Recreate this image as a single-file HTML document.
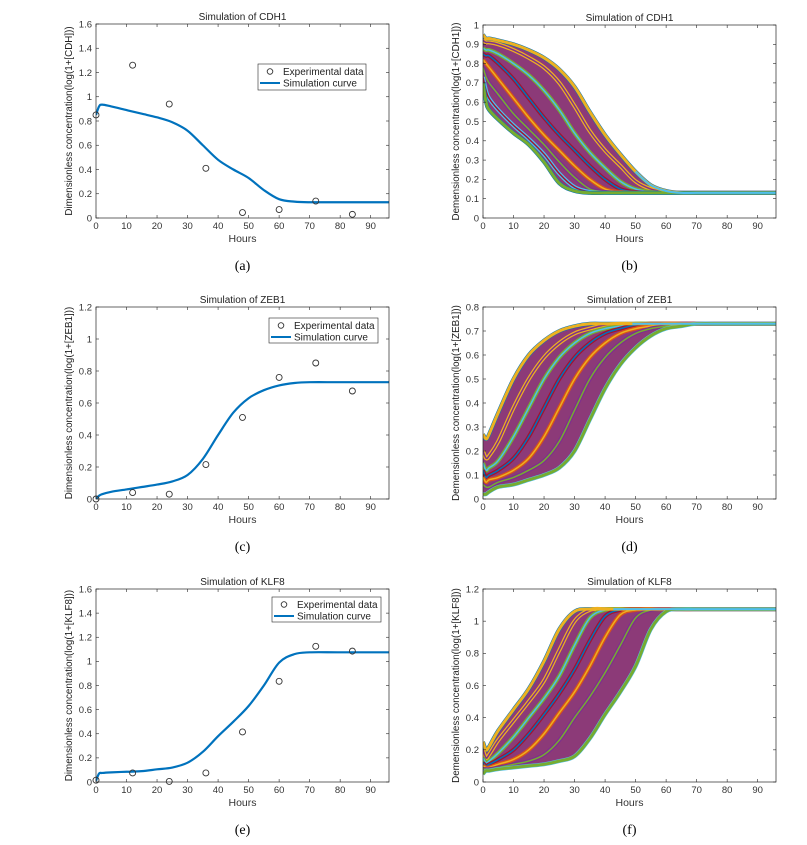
<!DOCTYPE html>
<html><head><meta charset="utf-8">
<style>
body{margin:0;background:#fff;}
svg{display:block;font-family:"Liberation Sans",sans-serif;}
</style></head>
<body>
<svg id="fig" width="807" height="845" viewBox="0 0 807 845" xmlns="http://www.w3.org/2000/svg"></svg>
<script>
// shared hour grid
const hoursGrid = [0,1,2,5,10,15,20,25,30,35,40,45,50,55,60,65,70,80,96];
const expHours = [0,12,24,36,48,60,72,84];
// panel a
const simA = [0.85,0.92,0.935,0.92,0.89,0.86,0.83,0.79,0.72,0.60,0.48,0.40,0.33,0.23,0.155,0.135,0.13,0.13,0.13];
const expA = [0.85,1.26,0.94,0.41,0.045,0.07,0.14,0.03];
// panel c
const simC = [0,0.02,0.03,0.045,0.06,0.075,0.09,0.11,0.15,0.25,0.40,0.54,0.63,0.68,0.71,0.725,0.73,0.73,0.73];
const expC = [0,0.04,0.03,0.215,0.51,0.76,0.85,0.675];
// panel e
const simE = [0.01,0.07,0.075,0.08,0.085,0.09,0.105,0.12,0.16,0.25,0.38,0.50,0.63,0.80,0.99,1.06,1.075,1.075,1.075];
const expE = [0.015,0.075,0.005,0.075,0.415,0.835,1.125,1.085];
// panel b ensemble
const ensB = [
 [0.95,0.93,0.93,0.92,0.90,0.87,0.83,0.77,0.68,0.55,0.43,0.33,0.24,0.17,0.14,0.13,0.13,0.13,0.13],
 [0.92,0.91,0.91,0.90,0.87,0.83,0.78,0.70,0.58,0.45,0.35,0.27,0.19,0.15,0.135,0.13,0.13,0.13,0.13],
 [0.88,0.87,0.87,0.85,0.80,0.74,0.66,0.56,0.44,0.34,0.26,0.19,0.15,0.135,0.13,0.13,0.13,0.13,0.13],
 [0.85,0.84,0.84,0.80,0.72,0.62,0.52,0.43,0.35,0.27,0.20,0.15,0.135,0.13,0.13,0.13,0.13,0.13,0.13],
 [0.82,0.80,0.78,0.72,0.62,0.52,0.43,0.35,0.27,0.20,0.15,0.135,0.13,0.13,0.13,0.13,0.13,0.13,0.13],
 [0.78,0.73,0.70,0.64,0.54,0.46,0.38,0.29,0.21,0.15,0.135,0.13,0.13,0.13,0.13,0.13,0.13,0.13,0.13],
 [0.73,0.66,0.62,0.56,0.48,0.41,0.33,0.23,0.16,0.135,0.13,0.13,0.13,0.13,0.13,0.13,0.13,0.13,0.13],
 [0.70,0.60,0.56,0.51,0.44,0.38,0.29,0.18,0.14,0.13,0.13,0.13,0.13,0.13,0.13,0.13,0.13,0.13,0.13]
];
// panel d ensemble
const ensD = [
 [0.27,0.25,0.27,0.36,0.50,0.60,0.66,0.70,0.72,0.73,0.73,0.73,0.73,0.73,0.73,0.73,0.73,0.73,0.73],
 [0.20,0.17,0.18,0.24,0.38,0.50,0.59,0.65,0.69,0.71,0.725,0.73,0.73,0.73,0.73,0.73,0.73,0.73,0.73],
 [0.15,0.12,0.13,0.16,0.26,0.38,0.50,0.59,0.65,0.69,0.71,0.72,0.73,0.73,0.73,0.73,0.73,0.73,0.73],
 [0.12,0.09,0.10,0.12,0.17,0.26,0.38,0.50,0.59,0.65,0.69,0.71,0.725,0.73,0.73,0.73,0.73,0.73,0.73],
 [0.09,0.07,0.08,0.09,0.12,0.17,0.26,0.38,0.50,0.59,0.65,0.69,0.71,0.72,0.73,0.73,0.73,0.73,0.73],
 [0.06,0.05,0.05,0.07,0.09,0.12,0.16,0.24,0.37,0.50,0.59,0.65,0.69,0.71,0.72,0.73,0.73,0.73,0.73],
 [0.02,0.02,0.03,0.05,0.06,0.08,0.10,0.13,0.20,0.33,0.46,0.56,0.63,0.68,0.71,0.72,0.73,0.73,0.73]
];
// panel f ensemble
const ensF = [
 [0.25,0.20,0.22,0.32,0.45,0.58,0.75,0.95,1.06,1.075,1.075,1.075,1.075,1.075,1.075,1.075,1.075,1.075,1.075],
 [0.20,0.15,0.17,0.26,0.38,0.50,0.63,0.82,1.00,1.07,1.075,1.075,1.075,1.075,1.075,1.075,1.075,1.075,1.075],
 [0.15,0.12,0.13,0.18,0.28,0.40,0.52,0.66,0.85,1.02,1.07,1.075,1.075,1.075,1.075,1.075,1.075,1.075,1.075],
 [0.12,0.10,0.11,0.14,0.20,0.30,0.42,0.55,0.70,0.88,1.03,1.07,1.075,1.075,1.075,1.075,1.075,1.075,1.075],
 [0.10,0.09,0.09,0.11,0.14,0.20,0.30,0.43,0.56,0.72,0.90,1.04,1.07,1.075,1.075,1.075,1.075,1.075,1.075],
 [0.08,0.08,0.08,0.09,0.11,0.13,0.17,0.26,0.40,0.53,0.68,0.85,1.02,1.07,1.075,1.075,1.075,1.075,1.075],
 [0.05,0.07,0.07,0.08,0.09,0.10,0.11,0.13,0.16,0.27,0.42,0.56,0.72,0.95,1.06,1.075,1.075,1.075,1.075]
];
const xTicks = [0,10,20,30,40,50,60,70,80,90];
const ticksA = ["0","0.2","0.4","0.6","0.8","1","1.2","1.4","1.6"];
const ticksB = ["0","0.1","0.2","0.3","0.4","0.5","0.6","0.7","0.8","0.9","1"];
const ticksC = ["0","0.2","0.4","0.6","0.8","1","1.2"];
const ticksD = ["0","0.1","0.2","0.3","0.4","0.5","0.6","0.7","0.8"];
const ticksF = ["0","0.2","0.4","0.6","0.8","1","1.2"];
const colors = ["#0072BD","#D95319","#EDB120","#7E2F8E","#77AC30","#4DBEEE","#A2142F"];

const NS="http://www.w3.org/2000/svg";
const svg=document.getElementById('fig');
function mk(tag,attrs,parent){const e=document.createElementNS(NS,tag);for(const k in attrs)e.setAttribute(k,attrs[k]);(parent||svg).appendChild(e);return e;}
function smooth(pts){let d="M"+pts[0][0]+","+pts[0][1];for(let i=0;i<pts.length-1;i++){const p0=pts[Math.max(0,i-1)],p1=pts[i],p2=pts[i+1],p3=pts[Math.min(pts.length-1,i+2)];const c1x=p1[0]+(p2[0]-p0[0])/6,c1y=p1[1]+(p2[1]-p0[1])/6,c2x=p2[0]-(p3[0]-p1[0])/6,c2y=p2[1]-(p3[1]-p1[1])/6;d+=" C"+c1x+","+c1y+" "+c2x+","+c2y+" "+p2[0]+","+p2[1];}return d;}

function panel(o){
  const g=mk('g',{});
  
  
  const X=h=>o.x0+(o.x1-o.x0)*h/96;
  const Y=v=>o.y1-(o.y1-o.y0)*v/o.ymax;
  const clip='clip-'+o.name;
  const cp=mk('clipPath',{id:clip},g);mk('rect',{x:o.x0,y:o.y0,width:o.x1-o.x0,height:o.y1-o.y0},cp);
  const plot=mk('g',{'clip-path':'url(#'+clip+')'},g);
  if(o.ens){
    const top=o.ens[0].map((v,i)=>[X(hoursGrid[i]),Y(v)]);
    const bot=o.ens[o.ens.length-1].map((v,i)=>[X(hoursGrid[i]),Y(v)]);
    const fill=mk('path',{d:smooth(top)+" L"+smooth(bot.slice().reverse()).slice(1)+" Z",fill:"#8c3a78",stroke:"none"},plot);
    
    
    o.ens.forEach((c,k)=>{
      const p=mk('path',{d:smooth(c.map((v,i)=>[X(hoursGrid[i]),Y(v)])),fill:'none',stroke:colors[(k*2)%colors.length],'stroke-width':4},plot);
      
      
      const q=mk('path',{d:smooth(c.map((v,i)=>[X(hoursGrid[i]),Y(v)])),fill:'none',stroke:colors[(k*2+1)%colors.length],'stroke-width':1.5},plot);
      
      
    });
    const last=mk('path',{d:smooth(o.ens[0].map((v,i)=>[X(hoursGrid[i]),Y(v)])),fill:'none',stroke:'#EDB120','stroke-width':3},plot);
    
    
    const first=mk('path',{d:smooth(o.ens[o.ens.length-1].map((v,i)=>[X(hoursGrid[i]),Y(v)])),fill:'none',stroke:'#77AC30','stroke-width':3},plot);
    
    
    const plateau=mk('path',{d:smooth(o.ens[0].map((v,i)=>[X(hoursGrid[i]),Y(v)])),fill:'none',stroke:'#4DBEEE','stroke-width':2,'stroke-dasharray':'0 '+(X(70)-o.x0)+' 1000'},plot);
    
    
  }
  if(o.sim){
    const p=mk('path',{d:smooth(o.sim.map((v,i)=>[X(hoursGrid[i]),Y(v)])),fill:'none',stroke:'#0072BD','stroke-width':2.2},plot);
    
    
    o.exp.forEach((v,i)=>{
      const c=mk('circle',{cx:X(expHours[i]),cy:Y(v),r:3,fill:'none',stroke:'#333','stroke-width':0.9},g);
      
      
    });
  }
  const box=mk('rect',{x:o.x0,y:o.y0,width:o.x1-o.x0,height:o.y1-o.y0,fill:'none',stroke:'#262626','stroke-width':0.7},g);
  
  
  xTicks.forEach(t=>{
    const x=X(t);
    mk('line',{x1:x,x2:x,y1:o.y1,y2:o.y1-3,stroke:'#262626','stroke-width':0.6},g);
    mk('line',{x1:x,x2:x,y1:o.y0,y2:o.y0+3,stroke:'#262626','stroke-width':0.6},g);
    const tx=mk('text',{x:x,y:o.y1+11,'font-size':9.5,fill:'#333','text-anchor':'middle'},g);tx.textContent=t;
    
    
  });
  const step=o.ymax/(o.ticks.length-1);
  o.ticks.forEach((t,i)=>{
    const y=Y(i*step);
    mk('line',{x1:o.x0,x2:o.x0+3,y1:y,y2:y,stroke:'#262626','stroke-width':0.6},g);
    mk('line',{x1:o.x1,x2:o.x1-3,y1:y,y2:y,stroke:'#262626','stroke-width':0.6},g);
    const tx=mk('text',{x:o.x0-4,y:y+3.3,'font-size':9.5,fill:'#333','text-anchor':'end'},g);tx.textContent=t;
    
    
  });
  const ti=mk('text',{x:(o.x0+o.x1)/2,y:o.y0-4,'font-size':10,fill:'#222','text-anchor':'middle'},g);ti.textContent=o.title;
  
  
  const xl=mk('text',{x:(o.x0+o.x1)/2,y:o.y1+24,'font-size':10.5,fill:'#333','text-anchor':'middle'},g);xl.textContent='Hours';
  
  
  const yc=(o.y0+o.y1)/2, yx=o.x0-24;
  const yl=mk('text',{x:yx,y:yc,'font-size':9.8,fill:'#222','text-anchor':'middle',transform:'rotate(-90 '+yx+' '+yc+')'},g);yl.textContent=o.ylabel;
  
  
  const lt=mk('text',{x:(o.x0+o.x1)/2,y:o.y1+52,'font-size':14,fill:'#000','text-anchor':'middle','font-family':'Liberation Serif, serif'},g);lt.textContent=o.letter;
  
  
  if(o.leg){
    const L=o.leg;
    const lg=mk('g',{},g);
    
    
    mk('rect',{x:L[0],y:L[1],width:L[2],height:L[3],fill:'#fff',stroke:'#262626','stroke-width':0.6},lg);
    mk('circle',{cx:L[0]+12,cy:L[1]+7.5,r:2.8,fill:'none',stroke:'#333','stroke-width':0.9},lg);
    mk('line',{x1:L[0]+2,x2:L[0]+22,y1:L[1]+19,y2:L[1]+19,stroke:'#0072BD','stroke-width':2},lg);
    const t1=mk('text',{x:L[0]+25,y:L[1]+11,'font-size':10,fill:'#222'},lg);t1.textContent='Experimental data';
    
    
    const t2=mk('text',{x:L[0]+25,y:L[1]+22.5,'font-size':10,fill:'#222'},lg);t2.textContent='Simulation curve';
    
    
  }
}
panel({name:'panel-a',x0:96,x1:389,y0:24,y1:218,ymax:1.6,ticks:ticksA,sim:simA,exp:expA,title:'Simulation of CDH1',ylabel:'Dimensionless concentration(log(1+[CDH]))',letter:'(a)',leg:[258,64,108,26]});
panel({name:'panel-b',x0:483,x1:776,y0:25,y1:218,ymax:1,ticks:ticksB,ens:ensB,title:'Simulation of CDH1',ylabel:'Demensionless concentration(log(1+[CDH1]))',letter:'(b)'});
panel({name:'panel-c',x0:96,x1:389,y0:307,y1:499,ymax:1.2,ticks:ticksC,sim:simC,exp:expC,title:'Simulation of ZEB1',ylabel:'Dimensionless concentration(log(1+[ZEB1]))',letter:'(c)',leg:[269,318,109,25]});
panel({name:'panel-d',x0:483,x1:776,y0:307,y1:499,ymax:0.8,ticks:ticksD,ens:ensD,title:'Simulation of ZEB1',ylabel:'Demensionless concentration(log(1+[ZEB1]))',letter:'(d)'});
panel({name:'panel-e',x0:96,x1:389,y0:589,y1:782,ymax:1.6,ticks:ticksA,sim:simE,exp:expE,title:'Simulation of KLF8',ylabel:'Dimensionless concentration(log(1+[KLF8]))',letter:'(e)',leg:[272,597,109,25]});
panel({name:'panel-f',x0:483,x1:776,y0:589,y1:782,ymax:1.2,ticks:ticksF,ens:ensF,title:'Simulation of KLF8',ylabel:'Demensionless concentration(log(1+[KLF8]))',letter:'(f)'});
</script>
</body></html>
